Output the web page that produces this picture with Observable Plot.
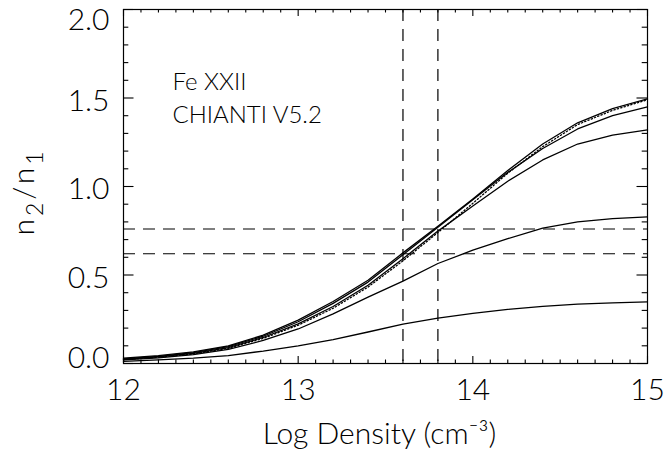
<!DOCTYPE html>
<html>
<head>
<meta charset="utf-8">
<script src="https://cdn.jsdelivr.net/npm/d3@7"></script>
<script src="https://cdn.jsdelivr.net/npm/@observablehq/plot@0.6"></script>
<style>
  html, body { margin: 0; padding: 0; background: #fff; }
  #chart svg { font-family: "Lato", "DejaVu Sans", sans-serif; font-weight: 300; }
</style>
</head>
<body>
<div id="chart"></div>
<script>
// ---- data ----
const logDensity = [12.0, 12.2, 12.4, 12.6, 12.8, 13.0, 13.2, 13.4, 13.6, 13.8, 14.0, 14.2, 14.4, 14.6, 14.8, 15.0];
const ratioA = [0.030, 0.045, 0.066, 0.100, 0.160, 0.245, 0.350, 0.470, 0.625, 0.775, 0.930, 1.090, 1.240, 1.360, 1.440, 1.495];
const ratioB = [0.026, 0.040, 0.061, 0.095, 0.154, 0.236, 0.340, 0.460, 0.615, 0.770, 0.925, 1.080, 1.215, 1.325, 1.400, 1.450];
const ratioDot = [0.022, 0.036, 0.054, 0.086, 0.142, 0.216, 0.312, 0.432, 0.580, 0.740, 0.905, 1.075, 1.225, 1.350, 1.430, 1.490];
const ratioC = [0.024, 0.038, 0.057, 0.090, 0.147, 0.224, 0.322, 0.442, 0.592, 0.748, 0.890, 1.030, 1.150, 1.240, 1.290, 1.320];
const ratioD = [0.020, 0.032, 0.050, 0.080, 0.130, 0.195, 0.280, 0.375, 0.465, 0.565, 0.640, 0.705, 0.765, 0.800, 0.818, 0.828];
const ratioE = [0.012, 0.020, 0.030, 0.045, 0.070, 0.100, 0.135, 0.178, 0.222, 0.256, 0.283, 0.306, 0.323, 0.335, 0.343, 0.348];
const obsRatio = [0.62, 0.76];
const obsDensity = [13.6, 13.8];
const xTicks = [12, 13, 14, 15];
const yTicks = [0.0, 0.5, 1.0, 1.5, 2.0];
const xMinor = d3.range(120, 151).map(d => d / 10).filter(d => !xTicks.includes(d));
const yMinor = d3.range(0, 21).map(d => d / 10).filter(d => !yTicks.some(t => Math.abs(t - d) < 1e-9));
const noteText = ["Fe XXII", "CHIANTI V5.2"];
const noteX = [12.28, 12.28];
const noteY = [1.59, 1.40];
const xTitle = "Log Density (cm⁻³)";

const solidSeries = [ratioA, ratioB, ratioC, ratioD, ratioE];
const solidRows = solidSeries.flatMap((s, i) => s.map((v, j) => ({x: logDensity[j], y: v, k: i})));
const dotRows = ratioDot.map((v, j) => ({x: logDensity[j], y: v}));
const notes = noteText.map((t, i) => ({t, x: noteX[i], y: noteY[i]}));

const W = 668, H = 463, mT = 9, mB = 100, mL = 123, mR = 21;
const frameH = H - mT - mB, frameW = W - mL - mR;
const xMaj = 7, xMin = 3.5, yMaj = 10.5, yMin = 5.3;
const tickStyle = {stroke: "#000", strokeWidth: 1.1};
const lab = {fontSize: 30, fill: "#000"};

const plot = Plot.plot({
  width: W, height: H,
  marginTop: mT, marginBottom: mB, marginLeft: mL, marginRight: mR,
  x: {domain: [12, 15], axis: null},
  y: {domain: [0, 2], axis: null},
  style: {background: "#fff", color: "#000", overflow: "visible"},
  marks: [
    // inward ticks on all four sides
    Plot.tickX(xTicks, {x: d => d, insetTop: frameH - xMaj, ...tickStyle}),
    Plot.tickX(xTicks, {x: d => d, insetBottom: frameH - xMaj, ...tickStyle}),
    Plot.tickX(xMinor, {x: d => d, insetTop: frameH - xMin, ...tickStyle}),
    Plot.tickX(xMinor, {x: d => d, insetBottom: frameH - xMin, ...tickStyle}),
    Plot.tickY(yTicks, {y: d => d, insetRight: frameW - yMaj, ...tickStyle}),
    Plot.tickY(yTicks, {y: d => d, insetLeft: frameW - yMaj, ...tickStyle}),
    Plot.tickY(yMinor, {y: d => d, insetRight: frameW - yMin, ...tickStyle}),
    Plot.tickY(yMinor, {y: d => d, insetLeft: frameW - yMin, ...tickStyle}),
    // observed ratio band and density lines
    Plot.ruleY(obsRatio, {y: d => d, stroke: "#000", strokeWidth: 1.2, strokeDasharray: "12,8"}),
    Plot.ruleX(obsDensity, {x: d => d, stroke: "#000", strokeWidth: 1.2, strokeDasharray: "12,8"}),
    // curves
    Plot.line(solidRows, {x: "x", y: "y", z: "k", stroke: "#000", strokeWidth: 1.3}),
    Plot.line(dotRows, {x: "x", y: "y", stroke: "#000", strokeWidth: 1.3, strokeDasharray: "1.3,2.2"}),
    Plot.frame({stroke: "#000", strokeWidth: 1.2}),
    // tick labels
    Plot.text(xTicks, {x: d => d, text: d => String(d), frameAnchor: "bottom", dy: 36, ...lab}),
    Plot.text(yTicks.filter(d => d > 0 && d < 2), {y: d => d, text: d => d.toFixed(1), frameAnchor: "left", dx: -14, dy: 3, textAnchor: "end", ...lab}),
    Plot.text(yTicks.filter(d => d === 2), {y: d => d, text: d => d.toFixed(1), frameAnchor: "left", dx: -14, dy: 11, textAnchor: "end", ...lab}),
    Plot.text(yTicks.filter(d => d === 0), {y: d => d, text: d => d.toFixed(1), frameAnchor: "left", dx: -14, dy: -5, textAnchor: "end", ...lab}),
    Plot.text([xTitle], {text: d => d, frameAnchor: "bottom", dx: -6, dy: 80, fontSize: 30, fill: "#000", letterSpacing: "2px"}),
    // annotations
    Plot.text(notes, {x: "x", y: "y", text: "t", textAnchor: "start", fontSize: 24, fill: "#000", letterSpacing: "0.5px"})
  ]
});

// y-axis title with real subscripts
const svg = d3.select(plot);
const yt = svg.append("text")
  .attr("transform", `translate(${34},${192}) rotate(-90)`)
  .attr("text-anchor", "middle")
  .attr("fill", "#000")
  .attr("font-size", 30)
  .attr("letter-spacing", "3px");
yt.append("tspan").text("n");
yt.append("tspan").attr("dy", 9).attr("font-size", 23).text("2");
yt.append("tspan").attr("dy", -9).text("/n");
yt.append("tspan").attr("dy", 9).attr("font-size", 23).text("1");

document.getElementById("chart").appendChild(plot);
</script>
</body>
</html>
